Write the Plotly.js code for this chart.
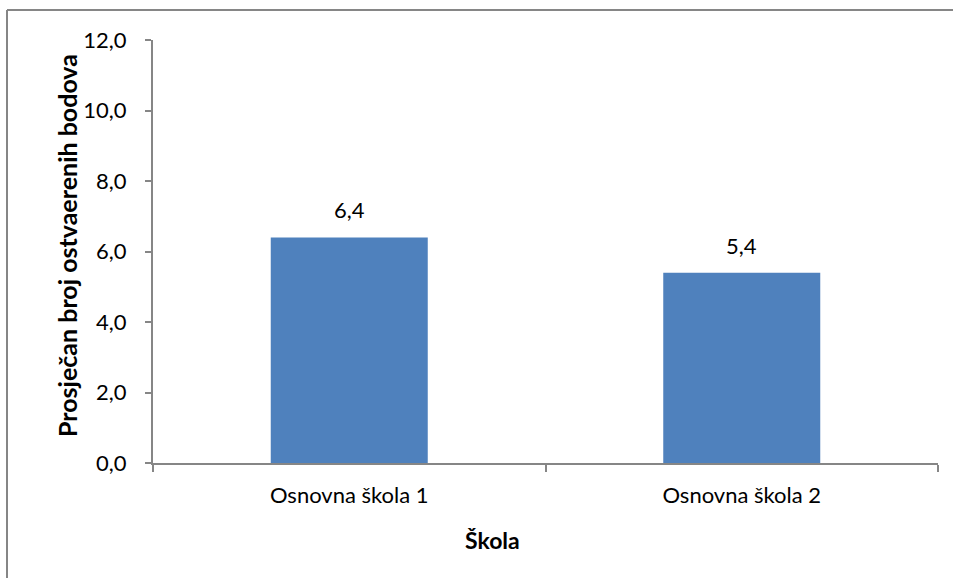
<!DOCTYPE html>
<html>
<head>
<meta charset="utf-8">
<script src="https://cdn.plot.ly/plotly-3.0.1.min.js"></script>
<style>
html,body{margin:0;padding:0;background:#fff;}
#chart{width:953px;height:578px;}
</style>
</head>
<body>
<div id="chart"></div>
<script>
const categories = ["Osnovna škola 1", "Osnovna škola 2"];
const values = [6.4, 5.4];
const yTicks = [0, 2, 4, 6, 8, 10, 12];
const xTitle = "Škola";
const yTitle = "Prosječan broj ostvaerenih bodova";

const FONT = "Lato, 'Open Sans', sans-serif";
const AXIS = "#868686";
const FS = 22;
const PW = 785, PH = 423, ML = 153, MT = 40;

const trace = {
  type: "bar",
  x: categories,
  y: values,
  marker: {color: "#4F81BD"},
  hoverinfo: "none"
};

const labels = categories.map((c, i) => ({
  x: c,
  y: values[i],
  xref: "x",
  yref: "y",
  text: values[i].toFixed(1).replace(".", ","),
  showarrow: false,
  yanchor: "bottom",
  yshift: 12,
  font: {family: FONT, size: FS, color: "#000"}
}));

const titles = [
  {
    text: "<b>" + xTitle + "</b>",
    xref: "paper", yref: "paper",
    x: (492 - ML) / PW, y: -(540 - MT - PH) / PH,
    xanchor: "center", yanchor: "middle",
    showarrow: false,
    font: {family: FONT, size: 23, color: "#000"}
  },
  {
    text: "<b>" + yTitle + "</b>",
    xref: "paper", yref: "paper",
    x: (67 - ML) / PW, y: (MT + PH - 246) / PH,
    xanchor: "center", yanchor: "middle",
    textangle: -90,
    showarrow: false,
    font: {family: FONT, size: 25, color: "#000"}
  }
];

const layout = {
  width: 953,
  height: 578,
  margin: {l: ML, r: 953 - ML - PW, t: MT, b: 578 - MT - PH},
  paper_bgcolor: "#fff",
  plot_bgcolor: "#fff",
  separators: ", ",
  showlegend: false,
  bargap: 0.6,
  font: {family: FONT, size: FS, color: "#000"},
  xaxis: {
    type: "category",
    showline: true,
    linecolor: AXIS,
    linewidth: 2,
    ticks: "outside",
    tickson: "boundaries",
    ticklen: 7,
    tickwidth: 2,
    tickcolor: AXIS,
    ticklabelstandoff: 12,
    showgrid: false,
    zeroline: false,
    tickfont: {family: FONT, size: FS, color: "#000"}
  },
  yaxis: {
    range: [0, 12],
    tickvals: yTicks,
    tickformat: ".1f",
    showline: true,
    linecolor: AXIS,
    linewidth: 2,
    ticks: "outside",
    ticklen: 6,
    tickwidth: 2,
    tickcolor: AXIS,
    ticklabelstandoff: 14,
    showgrid: false,
    zeroline: false,
    tickfont: {family: FONT, size: FS, color: "#000"}
  },
  annotations: labels.concat(titles),
  shapes: [
    {type: "line", xref: "paper", yref: "paper", x0: -146/PW, x1: 800/PW, y0: 1 + 30/PH, y1: 1 + 30/PH, line: {color: AXIS, width: 2}},
    {type: "line", xref: "paper", yref: "paper", x0: -146/PW, x1: -146/PW, y0: 1 + 30/PH, y1: -200/PH, line: {color: AXIS, width: 2}}
  ]
};

Plotly.newPlot("chart", [trace], layout, {staticPlot: true, displayModeBar: false});
</script>
</body>
</html>
